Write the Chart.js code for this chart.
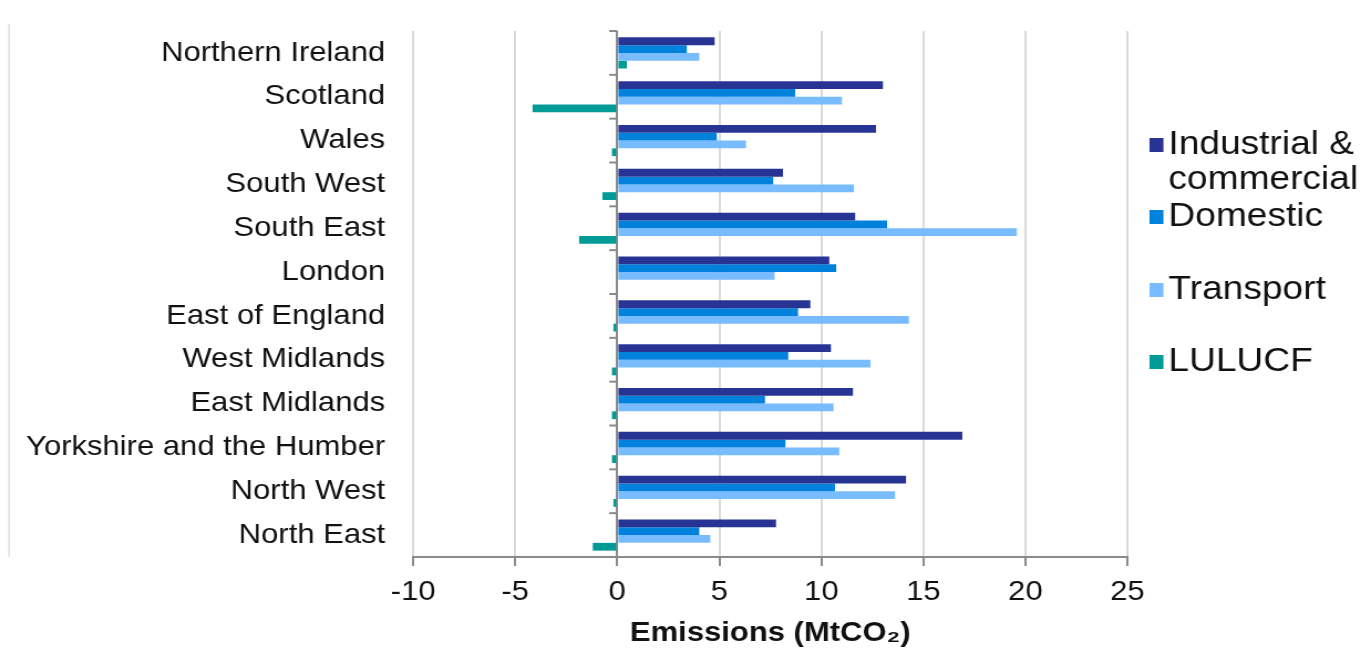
<!DOCTYPE html>
<html><head><meta charset="utf-8">
<script src="https://cdn.jsdelivr.net/npm/chart.js@4/dist/chart.umd.min.js"></script>
<style>
html,body{margin:0;padding:0;background:#fff;overflow:hidden}
#wrap{width:1371px;height:652px;position:relative}
canvas{display:block}
</style></head><body>
<div id="wrap"><canvas id="c"></canvas></div>
<script>
// ---- data ----
const categories = ['Northern Ireland','Scotland','Wales','South West','South East','London','East of England','West Midlands','East Midlands','Yorkshire and the Humber','North West','North East'];
const industrial = [4.77, 13.02, 12.68, 8.12, 11.66, 10.39, 9.46, 10.47, 11.55, 16.91, 14.15, 7.78];
const domestic   = [3.41, 8.72, 4.88, 7.64, 13.22, 10.73, 8.86, 8.38, 7.24, 8.24, 10.67, 4.02];
const transport  = [4.02, 11.01, 6.31, 11.60, 19.58, 7.71, 14.29, 12.41, 10.60, 10.88, 13.61, 4.56];
const lulucf     = [0.47, -4.15, -0.26, -0.73, -1.87, 0, -0.19, -0.26, -0.26, -0.26, -0.19, -1.20];
const seriesNames = ['Industrial & commercial','Domestic','Transport','LULUCF'];
const legendLines = [['Industrial &','commercial'],['Domestic'],['Transport'],['LULUCF']];
const xMin = -10, xMax = 25, xStep = 5;
const axisTitle = 'Emissions (MtCO\u2082)';

// ---- style / layout ----
const colors = ['#283494','#0081DB','#78BBFF','#009A97'];
const SX = 1.107;             // horizontal stretch of the reference
const W = Math.round(1371/SX), H = 652;
const F = 28, FL = 33.5;
const FONT = '"Liberation Sans", Arial, Helvetica, sans-serif';
const chartLeft = 413/SX, chartRight = 1127/SX, chartTop = 31, chartBottom = 557;
const legendPos = {sqX:1149/SX, txtX:1168/SX, sqW:14/SX, sqH:14, lineY:[[145,180],[217],[290],[362]]};

const canvas = document.getElementById('c');
canvas.width = W; canvas.height = H;
canvas.style.width = '1371px'; canvas.style.height = H + 'px';

const decor = {
  id:'decor',
  beforeDatasetsDraw(chart){
    const ctx = chart.ctx, xs = chart.scales.x, ys = chart.scales.y;
    const x0 = xs.getPixelForValue(0);
    const n = categories.length;
    const step = (ys.bottom - ys.top)/n;
    ctx.save();
    ctx.strokeStyle = '#8a8a8a'; ctx.lineWidth = 2;
    for(let i=0;i<n;i++){
      const y = ys.top + i*step;
      ctx.beginPath(); ctx.moveTo(x0 - 8/SX, y); ctx.lineTo(x0, y); ctx.stroke();
    }
    ctx.restore();
  },
  afterDraw(chart){
    const ctx = chart.ctx;
    ctx.save();
    ctx.strokeStyle = '#cfcfcf'; ctx.lineWidth = 1;
    ctx.beginPath(); ctx.moveTo(9/SX, 24); ctx.lineTo(9/SX, chartBottom); ctx.stroke();
    ctx.font = FL + 'px ' + FONT;
    ctx.textBaseline = 'middle'; ctx.textAlign = 'left';
    chart.data.datasets.forEach((ds,i)=>{
      const ys = legendPos.lineY[i];
      ctx.fillStyle = ds.backgroundColor;
      ctx.fillRect(legendPos.sqX, ys[0] - legendPos.sqH/2, legendPos.sqW, legendPos.sqH);
      ctx.fillStyle = '#111';
      legendLines[i].forEach((t,j)=> ctx.fillText(t, legendPos.txtX, ys[j]));
    });
    ctx.restore();
  }
};

const series = [industrial, domestic, transport, lulucf];
new Chart(canvas, {
  type:'bar',
  data:{labels:categories, datasets: series.map((d,i)=>({label:seriesNames[i], data:d, backgroundColor:colors[i], borderWidth:0}))},
  options:{
    indexAxis:'y', responsive:false, animation:false, devicePixelRatio:1,
    layout:{padding:{left:0, right:W-chartRight, top:chartTop, bottom:0}},
    datasets:{bar:{categoryPercentage:0.71, barPercentage:1}},
    plugins:{legend:{display:false}, tooltip:{enabled:false}, title:{display:false}},
    scales:{
      x:{type:'linear', min:xMin, max:xMax,
         ticks:{stepSize:xStep, color:'#111', font:{family:FONT, size:F}, padding:9},
         grid:{color:c=> (c.tick && c.tick.value===0) ? '#8a8a8a' : '#d9d9d9', lineWidth:2, tickColor:'#8a8a8a', tickLength:9},
         border:{color:'#8a8a8a', width:2},
         title:{display:true, text:axisTitle, color:'#111', font:{family:FONT, size:F, weight:'bold'}, padding:{top:0, bottom:2}},
         afterFit:s=>{ s.height = H - chartBottom; }},
      y:{ticks:{color:'#111', font:{family:FONT, size:F}, padding:28/SX},
         grid:{display:false, drawTicks:false}, border:{display:false},
         afterFit:s=>{ s.width = chartLeft; s.paddingTop = 0; s.paddingBottom = 0; }}
    }
  },
  plugins:[decor]
});
</script>
</body></html>
